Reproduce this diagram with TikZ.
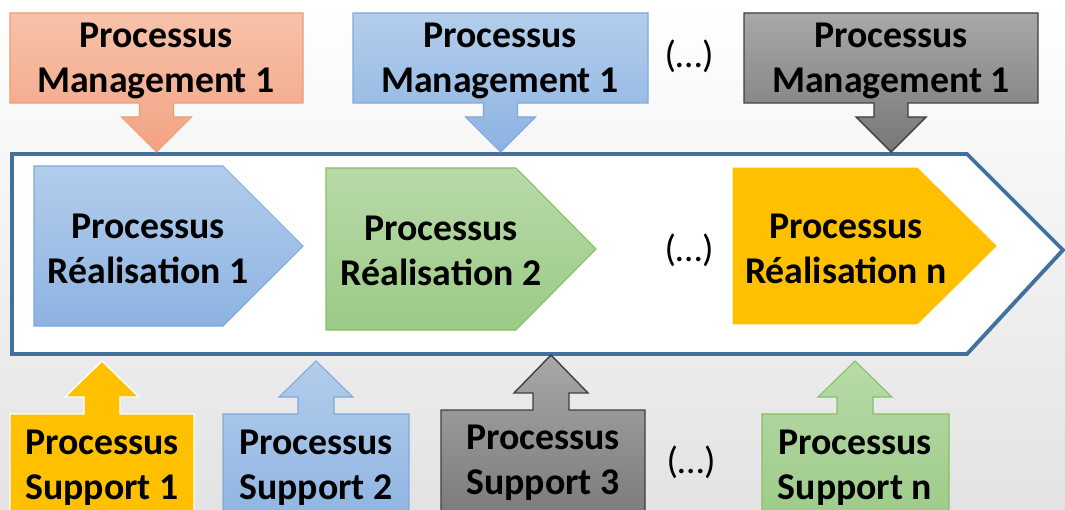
\documentclass[tikz,border=0pt]{standalone}
\usepackage{fontspec}
\setmainfont{Carlito}
\usepackage{xcolor}
\usepackage{tikz}

\definecolor{orangeA}{HTML}{F7C2AA}
\definecolor{orangeB}{HTML}{F2A383}
\definecolor{orangeL}{HTML}{F19B70}
\definecolor{blueA}{HTML}{B3CDEB}
\definecolor{blueB}{HTML}{8DB3E2}
\definecolor{blueL}{HTML}{7FA9DD}
\definecolor{grayA}{HTML}{A8A8A8}
\definecolor{grayB}{HTML}{777777}
\definecolor{grayL}{HTML}{3F3F3F}
\definecolor{greenA}{HTML}{B8DAA8}
\definecolor{greenB}{HTML}{9BCA86}
\definecolor{greenL}{HTML}{85BF66}
\definecolor{yellowF}{HTML}{FFC000}
\definecolor{frameL}{HTML}{41719C}

% callout pointing down onto the frame
\newcommand{\mgmtcallout}[3]{%
  \pgfmathsetmacro{\arrowx}{(#2+#3)/2}
  \draw[#1] (#2,13) -- (#3,13) -- (#3,103) -- (\arrowx+17,103) -- (\arrowx+17,117)
    -- (\arrowx+35,117) -- (\arrowx,152) -- (\arrowx-35,117) -- (\arrowx-17,117)
    -- (\arrowx-17,103) -- (#2,103) -- cycle;
}
% callout pointing up onto the frame
\newcommand{\suppcallout}[6]{%
  \draw[#1] (#2,530) -- (#2,#4) -- (#5-18,#4) -- (#5-18,#4-17) -- (#5-37,#4-17)
    -- (#5,#6) -- (#5+37,#4-17) -- (#5+18,#4-17) -- (#5+18,#4) -- (#3,#4)
    -- (#3,530) -- cycle;
}
% process chevron
\newcommand{\chevron}[5]{%
  \pgfmathsetmacro{\midy}{(#3+#5)/2}
  \draw[#1] (#2,#3) -- (#4-80,#3) -- (#4,\midy) -- (#4-80,#5) -- (#2,#5) -- cycle;
}

\begin{document}
\begin{tikzpicture}[
	x=0.02cm, y=-0.02cm,
	every node/.style={font=\fontsize{21.5}{25.5}\selectfont\bfseries, align=center},
	dots/.style={font=\fontsize{21.5}{25.5}\selectfont},
	orangeshape/.style={top color=orangeA, bottom color=orangeB, draw=orangeL, line width=0.6pt},
	blueshape/.style={top color=blueA, bottom color=blueB, draw=blueL, line width=0.6pt},
	grayshape/.style={top color=grayA, bottom color=grayB, draw=grayL, line width=0.8pt},
	greenshape/.style={top color=greenA, bottom color=greenB, draw=greenL, line width=0.6pt},
	yellowshape/.style={fill=yellowF, draw=white, line width=0.8pt},
	frame/.style={draw=frameL, fill=white, line width=2.2pt, line join=miter},
]
\useasboundingbox (0,0) rectangle (1065,510);
\clip (0,0) rectangle (1065,510);
\fill[top color=white, bottom color=gray!22] (0,0) rectangle (1065,510);

% frame
\draw[frame] (12,154) -- (967,154) -- (1063,250) -- (967,354) -- (12,354) -- cycle;

% management
\mgmtcallout{orangeshape}{10}{303}
\mgmtcallout{blueshape}{353}{648}
\mgmtcallout{grayshape}{744}{1038}
\node (mgmtA) at (156,61) {Processus\\Management 1};
\node (mgmtB) at (500,61) {Processus\\Management 1};
\node (mgmtC) at (891,61) {Processus\\Management 1};
\node[dots] (dotsTop) at (689,56) {(…)};

% realisation
\chevron{blueshape}{34}{166}{303}{326}
\chevron{greenshape}{326}{168}{596}{330}
\chevron{yellowshape}{732}{167}{998}{325}
\node (realA) at (148,249) {Processus\\Réalisation 1};
\node (realB) at (441,251) {Processus\\Réalisation 2};
\node (realN) at (846,249) {Processus\\Réalisation n};
\node[dots] (dotsMid) at (689,250) {(…)};

% support
\suppcallout{yellowshape}{10}{194}{414}{102}{361}
\suppcallout{blueshape}{223}{409}{414}{316}{361}
\suppcallout{grayshape}{441}{645}{410}{551}{355}
\suppcallout{greenshape}{762}{949}{414}{855}{361}
\node (suppA) at (102,468) {Processus\\Support 1};
\node (suppB) at (316,468) {Processus\\Support 2};
\node (suppC) at (543,463) {Processus\\Support 3};
\node (suppN) at (855,468) {Processus\\Support n};
\node[dots] (dotsBot) at (691,462) {(…)};
\end{tikzpicture}
\end{document}
